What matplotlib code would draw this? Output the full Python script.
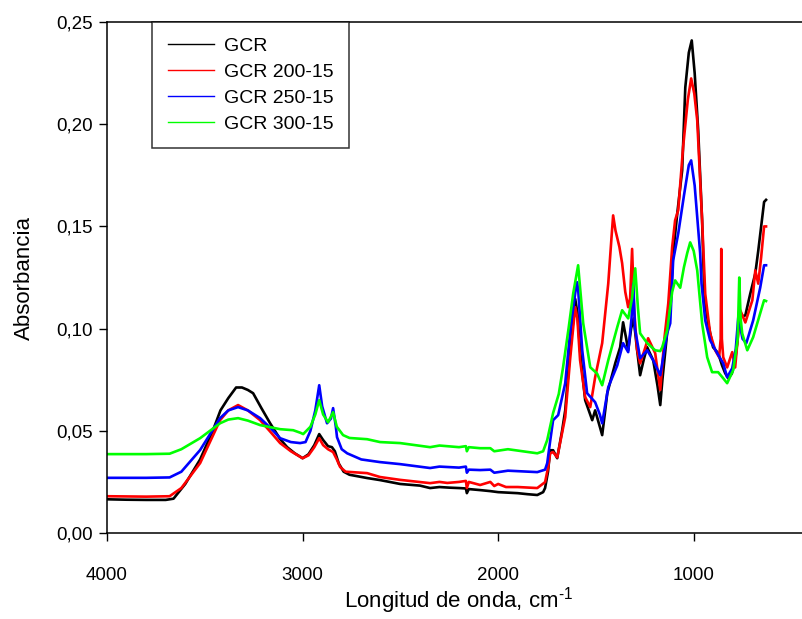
"""
FTIR spectra of GCR samples (absorbance vs wavenumber).
"""

import matplotlib

matplotlib.use("Agg")
import matplotlib.pyplot as plt  # noqa: E402
from matplotlib.ticker import FuncFormatter  # noqa: E402

plt.rcParams["font.family"] = ["Liberation Sans", "DejaVu Sans"]
plt.rcParams["mathtext.fontset"] = "custom"
plt.rcParams["mathtext.rm"] = "Liberation Sans"

# ---- data ----
labels = ["GCR", "GCR 200-15", "GCR 250-15", "GCR 300-15"]
colors = ["#000000", "#ff0000", "#0000ff", "#00ff00"]

wn_gcr = [4000, 3900, 3800, 3700, 3660, 3600, 3524, 3458, 3420, 3380, 3340, 3310,
          3280, 3253, 3210, 3166, 3115, 3079, 3040, 3000, 2970, 2940, 2915, 2895,
          2870, 2850, 2835, 2815, 2790, 2760, 2670, 2604, 2501, 2400, 2348, 2300,
          2250, 2200, 2165, 2160, 2150, 2092, 2040, 2000, 1900, 1850, 1800, 1770,
          1760, 1745, 1734, 1719, 1698, 1673, 1657, 1632, 1615, 1606, 1595, 1581,
          1565, 1555, 1519, 1504, 1480, 1468, 1455, 1442, 1401, 1376, 1361, 1345,
          1335, 1320, 1307, 1290, 1274, 1255, 1238, 1207, 1185, 1171, 1160, 1136,
          1120, 1105, 1084, 1059, 1043, 1025, 1010, 995, 977, 957, 945, 926, 901,
          875, 855, 839, 823, 805, 788, 775, 767, 750, 736, 711, 685, 670, 655,
          640, 630]
abs_gcr = [0.0165, 0.0163, 0.0162, 0.0162, 0.0168, 0.024, 0.036, 0.0503, 0.060,
           0.066, 0.0712, 0.0712, 0.070, 0.0684, 0.061, 0.0537, 0.046, 0.042,
           0.039, 0.0366, 0.0385, 0.043, 0.0484, 0.0455, 0.0425, 0.042, 0.040,
           0.034, 0.030, 0.0285, 0.0269, 0.0259, 0.024, 0.0232, 0.022, 0.0225,
           0.0222, 0.022, 0.0218, 0.0195, 0.0215, 0.021, 0.0205, 0.020, 0.0195,
           0.019, 0.0186, 0.020, 0.022, 0.030, 0.0405, 0.0405, 0.0366, 0.050,
           0.060, 0.0894, 0.105, 0.1145, 0.108, 0.0894, 0.074, 0.065, 0.0552,
           0.060, 0.052, 0.0479, 0.058, 0.0684, 0.0831, 0.0909, 0.1031, 0.095,
           0.0894, 0.100, 0.105, 0.090, 0.0772, 0.085, 0.0909, 0.0845, 0.072,
           0.0626, 0.075, 0.0977, 0.110, 0.1369, 0.1564, 0.1774, 0.218, 0.235,
           0.241, 0.225, 0.197, 0.153, 0.115, 0.1026, 0.0909, 0.088, 0.082,
           0.0782, 0.0757, 0.078, 0.0845, 0.095, 0.109, 0.106, 0.1065, 0.117,
           0.127, 0.138, 0.150, 0.162, 0.163]

wn_200 = [4000, 3800, 3680, 3620, 3524, 3422, 3380, 3330, 3280, 3217, 3160, 3115,
          3060, 3000, 2970, 2940, 2915, 2895, 2870, 2844, 2825, 2808, 2780, 2670,
          2604, 2501, 2348, 2300, 2260, 2200, 2165, 2160, 2150, 2092, 2040, 2020,
          2000, 1960, 1900, 1800, 1760, 1744, 1734, 1719, 1698, 1673, 1657, 1632,
          1606, 1595, 1581, 1555, 1529, 1504, 1468, 1437, 1420, 1412, 1400, 1380,
          1366, 1350, 1335, 1325, 1315, 1305, 1290, 1274, 1250, 1233, 1197, 1171,
          1150, 1130, 1110, 1095, 1079, 1054, 1030, 1013, 997, 982, 957, 941, 916,
          890, 870, 862, 859, 856, 849, 829, 803, 788, 762, 736, 700, 685, 670,
          655, 640, 630]
abs_200 = [0.018, 0.0178, 0.018, 0.022, 0.0342, 0.0552, 0.060, 0.0626, 0.060,
           0.0552, 0.049, 0.044, 0.040, 0.0366, 0.038, 0.042, 0.0464, 0.043,
           0.041, 0.0396, 0.036, 0.0323, 0.030, 0.0293, 0.0274, 0.026, 0.0244,
           0.025, 0.0245, 0.025, 0.0255, 0.022, 0.025, 0.0235, 0.025, 0.023,
           0.024, 0.0225, 0.0225, 0.022, 0.0249, 0.0323, 0.039, 0.0396, 0.037,
           0.049, 0.0567, 0.085, 0.1105, 0.105, 0.0845, 0.0665, 0.0616, 0.0762,
           0.0929, 0.122, 0.145, 0.1554, 0.148, 0.140, 0.132, 0.118, 0.1105,
           0.115, 0.139, 0.110, 0.090, 0.083, 0.090, 0.0953, 0.088, 0.070, 0.095,
           0.1124, 0.140, 0.153, 0.158, 0.189, 0.212, 0.2224, 0.215, 0.202, 0.153,
           0.117, 0.0977, 0.0894, 0.086, 0.095, 0.139, 0.095, 0.086, 0.081,
           0.0885, 0.081, 0.109, 0.103, 0.1139, 0.1285, 0.122, 0.135, 0.150,
           0.150]

wn_250 = [4000, 3800, 3680, 3620, 3524, 3422, 3380, 3330, 3280, 3217, 3160, 3115,
          3060, 3013, 2985, 2960, 2935, 2915, 2900, 2875, 2855, 2844, 2830, 2824,
          2800, 2772, 2700, 2604, 2501, 2348, 2300, 2200, 2165, 2160, 2150, 2092,
          2040, 2020, 1950, 1800, 1760, 1749, 1734, 1719, 1693, 1657, 1630, 1605,
          1596, 1590, 1570, 1545, 1504, 1480, 1468, 1437, 1391, 1361, 1335, 1318,
          1309, 1300, 1274, 1238, 1207, 1171, 1136, 1120, 1105, 1079, 1050, 1025,
          1013, 995, 967, 960, 941, 916, 880, 849, 829, 803, 785, 772, 750, 731,
          696, 660, 640, 630]
abs_250 = [0.027, 0.027, 0.0272, 0.030, 0.0406, 0.0562, 0.060, 0.0616, 0.060,
           0.0562, 0.051, 0.0464, 0.0445, 0.044, 0.0445, 0.050, 0.060, 0.0723,
           0.062, 0.0537, 0.056, 0.0611, 0.052, 0.0469, 0.041, 0.039, 0.036,
           0.0347, 0.0337, 0.0318, 0.0325, 0.032, 0.0325, 0.0295, 0.031, 0.0308,
           0.031, 0.0295, 0.0305, 0.0298, 0.031, 0.0342, 0.045, 0.0552, 0.0577,
           0.0733, 0.100, 0.118, 0.1227, 0.118, 0.0894, 0.0684, 0.064, 0.058,
           0.0537, 0.0713, 0.082, 0.0929, 0.0885, 0.105, 0.122, 0.100, 0.0855,
           0.0894, 0.0845, 0.0772, 0.0977, 0.1026, 0.1334, 0.1466, 0.165, 0.180,
           0.1823, 0.170, 0.1369, 0.122, 0.104, 0.0943, 0.088, 0.083, 0.0762,
           0.0806, 0.090, 0.1055, 0.095, 0.0929, 0.104, 0.120, 0.131, 0.131]

wn_300 = [4000, 3800, 3680, 3620, 3524, 3422, 3380, 3330, 3280, 3217, 3115, 3048,
          3010, 2997, 2960, 2935, 2915, 2895, 2870, 2855, 2844, 2825, 2793, 2760,
          2670, 2604, 2501, 2348, 2300, 2200, 2165, 2160, 2150, 2092, 2040, 2020,
          1950, 1800, 1770, 1749, 1719, 1690, 1668, 1640, 1616, 1591, 1565, 1529,
          1494, 1468, 1437, 1391, 1366, 1335, 1315, 1299, 1285, 1274, 1238, 1197,
          1171, 1161, 1136, 1110, 1095, 1069, 1050, 1033, 1018, 1000, 982, 957,
          931, 906, 875, 849, 829, 798, 775, 767, 760, 752, 726, 696, 660, 640, 630]
abs_300 = [0.0386, 0.0386, 0.0388, 0.041, 0.0464, 0.0537, 0.0555, 0.0562, 0.055,
           0.0528, 0.0508, 0.0503, 0.049, 0.0484, 0.052, 0.058, 0.065, 0.058,
           0.0542, 0.057, 0.0591, 0.052, 0.0479, 0.0465, 0.0459, 0.0445, 0.044,
           0.042, 0.0428, 0.042, 0.0425, 0.040, 0.042, 0.0415, 0.0415, 0.040,
           0.041, 0.039, 0.040, 0.0455, 0.0587, 0.068, 0.0811, 0.100, 0.1173,
           0.131, 0.1026, 0.0811, 0.078, 0.0723, 0.0845, 0.1007, 0.109, 0.105,
           0.115, 0.1295, 0.110, 0.0977, 0.0929, 0.0894, 0.089, 0.0909, 0.099,
           0.118, 0.1236, 0.120, 0.130, 0.137, 0.1422, 0.138, 0.1285, 0.1026,
           0.086, 0.0787, 0.0787, 0.0757, 0.0733, 0.0797, 0.095, 0.125, 0.105,
           0.0977, 0.0894, 0.0958, 0.1075, 0.1139, 0.1135]

y_ticks = [0.00, 0.05, 0.10, 0.15, 0.20, 0.25]
x_ticks = [4000, 3000, 2000, 1000]

series = [(wn_gcr, abs_gcr), (wn_200, abs_200), (wn_250, abs_250), (wn_300, abs_300)]

# ---- figure ----
fig = plt.figure(figsize=(8.03, 6.19), dpi=100)
ax = fig.add_axes([0.1333, 0.1389, 0.8767, 0.8255])

for (wn, ab), lab, col in zip(series, labels, colors):
    ax.plot(wn, ab, color=col, linewidth=1.9, label=lab)

ax.set_xlim(4000, 400)
ax.set_ylim(0, 0.25)
ax.set_xticks(x_ticks)
ax.set_yticks(y_ticks)
ax.yaxis.set_major_formatter(FuncFormatter(lambda v, _: f"{v:.2f}".replace(".", ",")))
ax.tick_params(direction="out", length=5.5, width=1, labelsize=13.5)
ax.tick_params(axis="x", pad=19)
ax.tick_params(axis="y", pad=5)
ax.spines["right"].set_visible(False)
for s in ("left", "bottom", "top"):
    ax.spines[s].set_linewidth(1.1)

ax.set_xlabel(r"Longitud de onda, cm$^{\text{-1}}$", fontsize=16, labelpad=1)
ax.set_ylabel("Absorbancia", fontsize=16, labelpad=15)

leg = ax.legend(loc="upper left", bbox_to_anchor=(0.064, 1.0), borderaxespad=0,
                fontsize=14, frameon=True, fancybox=False, edgecolor="black",
                handlelength=2.4, handletextpad=0.5, labelspacing=0.42,
                borderpad=0.8)
leg.get_frame().set_linewidth(1.1)
for line in leg.get_lines():
    line.set_linewidth(1.0)

fig.savefig("out.png", dpi=100)
plt.close(fig)
